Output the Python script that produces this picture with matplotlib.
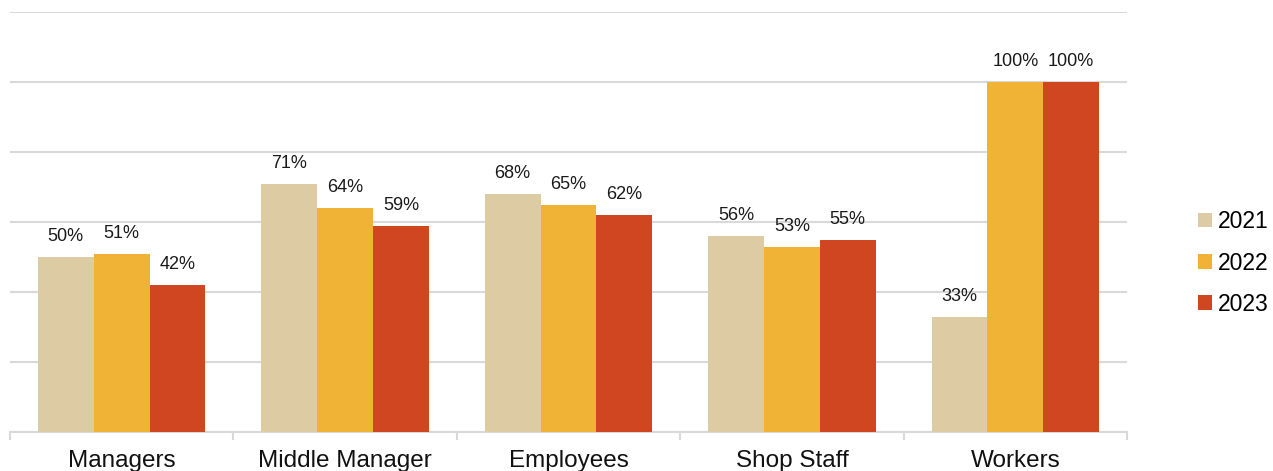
import matplotlib.pyplot as plt
import numpy as np
from matplotlib.patches import Patch

plt.rcParams["font.family"] = ["Liberation Sans", "DejaVu Sans"]

CATEGORIES = ["Managers", "Middle Manager", "Employees", "Shop Staff", "Workers"]
YEARS = ["2021", "2022", "2023"]
VALUES_2021 = [50, 71, 68, 56, 33]
VALUES_2022 = [51, 64, 65, 53, 100]
VALUES_2023 = [42, 59, 62, 55, 100]

COLORS = ["#DDCBA4", "#F0B335", "#D04620"]
GRID = "#D9D9D9"

W, H = 1273, 471
fig = plt.figure(figsize=(W / 100, H / 100), dpi=100)
ax = fig.add_axes([10 / W, 1 - 432 / H, (1127 - 10) / W, (432 - 12) / H])

x = np.arange(len(CATEGORIES))
bar_w = 0.25
series = [VALUES_2021, VALUES_2022, VALUES_2023]
for i, (vals, col) in enumerate(zip(series, COLORS)):
    pos = x + (i - 1) * bar_w
    ax.bar(pos, vals, width=bar_w, color=col, zorder=3)
    for px, v in zip(pos, vals):
        ax.annotate(f"{v}%", (px, v), xytext=(0, 11.5), textcoords="offset points",
                    ha="center", va="baseline", fontsize=13, color="#1a1a1a")

ax.set_xlim(-0.5, len(CATEGORIES) - 0.5)
ax.set_ylim(0, 120)
ax.set_yticks(np.arange(0, 121, 20))
ax.yaxis.grid(True, color=GRID, linewidth=1.5, zorder=0)
ax.tick_params(axis="y", left=False, labelleft=False)

ax.set_xticks(x)
ax.set_xticklabels(CATEGORIES, fontsize=17.5, color="#111111")
ax.tick_params(axis="x", which="major", length=0, pad=13)
ax.set_xticks(np.arange(-0.5, len(CATEGORIES)), minor=True)
ax.tick_params(axis="x", which="minor", length=6, width=1.5, color=GRID)

for s in ["top", "right", "left"]:
    ax.spines[s].set_visible(False)
ax.spines["bottom"].set_color(GRID)
ax.spines["bottom"].set_linewidth(1.5)

handles = [Patch(facecolor=c, label=y) for c, y in zip(COLORS, YEARS)]
fig.legend(handles=handles, loc="center left", bbox_to_anchor=(1198 / W, 1 - 263 / H),
           frameon=False, fontsize=16.5, handlelength=0.6, handleheight=0.6,
           handletextpad=0.25, labelspacing=0.8, borderaxespad=0, borderpad=0)

fig.savefig("out.png", dpi=100)
